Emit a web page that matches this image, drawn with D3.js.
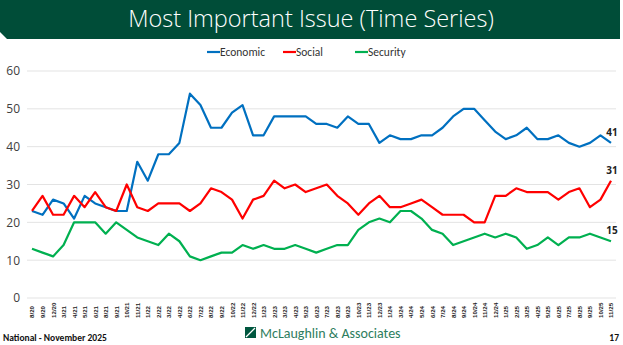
<!DOCTYPE html>
<html><head><meta charset="utf-8">
<script src="https://cdn.jsdelivr.net/npm/d3@7/dist/d3.min.js"></script>
<style>body{margin:0;background:#fff;}svg{display:block;font-family:Calibri,Carlito,"Liberation Sans",Arial,sans-serif;}</style>
</head><body>
<svg id="c" width="623" height="345"></svg>
<script>
const dates = ["8/20","9/20","12/20","3/21","4/21","5/21","6/21","8/21","9/21","10/21","11/21","1/22","2/22","3/22","4/22","6/22","7/22","8/22","9/22","10/22","11/22","12/22","1/23","2/23","3/23","4/23","5/23","6/23","7/23","8/23","9/23","10/23","11/23","12/23","1/24","3/24","4/24","5/24","6/24","7/24","8/24","9/24","10/24","11/24","12/24","1/25","2/25","3/25","4/25","5/25","6/25","7/25","8/25","9/25","10/25","11/25"];
const economic = [23,22,26,25,21,27,25,24,23,23,36,31,38,38,41,54,51,45,45,49,51,43,43,48,48,48,48,46,46,45,48,46,46,41,43,42,42,43,43,45,48,50,50,47,44,42,43,45,42,42,43,41,40,41,43,41];
const social = [23,27,22,22,27,24,28,24,23,30,24,23,25,25,25,23,25,29,28,26,21,26,27,31,29,30,28,29,30,27,25,22,25,27,24,24,25,26,24,22,22,22,20,20,27,27,29,28,28,28,26,28,29,24,26,31];
const security = [13,12,11,14,20,20,20,17,20,18,16,15,14,17,15,11,10,11,12,12,14,13,14,13,13,14,13,12,13,14,14,18,20,21,20,23,23,21,18,17,14,15,16,17,16,17,16,13,14,16,14,16,16,17,16,15];
const yTicks = [0,10,20,30,40,50,60];
const seriesNames = ["Economic","Social","Security"];
const colors = ["#0070C0","#FF0000","#00B050"];

const svg = d3.select("#c");
// title banner
svg.append("path").attr("d","M0,0 H620 V39 H7 L0,32 Z").attr("fill","#004D38");
svg.append("text").attr("x",311).attr("y",27).attr("text-anchor","middle")
  .attr("fill","#fff").attr("font-size",23.5).attr("font-weight",300)
  .attr("font-family","'Open Sans',sans-serif").text("Most Important Issue (Time Series)");

const x = d3.scalePoint().domain(dates).range([32,611]);
const y = d3.scaleLinear().domain([0,60]).range([298,71]);

// gridlines
svg.append("g").selectAll("line").data(yTicks).join("line")
  .attr("x1",27).attr("x2",616).attr("y1",d=>y(d)).attr("y2",d=>y(d))
  .attr("stroke","#e3e3e3").attr("stroke-width",1);

// y axis
const ya = svg.append("g").attr("transform","translate(20,0)")
  .call(d3.axisLeft(y).tickValues(yTicks).tickSize(0).tickPadding(0));
ya.select(".domain").remove();
ya.selectAll("text").attr("font-size",12).attr("fill","#404040").attr("font-family","'Open Sans',sans-serif");

// x axis
const xa = svg.append("g").attr("transform","translate(0,302)")
  .call(d3.axisBottom(x).tickSize(0).tickPadding(0));
xa.select(".domain").remove();
xa.selectAll(".tick text").attr("font-size",6.2).attr("font-weight","bold").attr("fill","#222")
  .attr("dy","0.32em").attr("transform","rotate(-90)").attr("x",-16).attr("y",0).attr("text-anchor","start");

// lines
const data = [economic, social, security];
const line = d3.line().x((d,i)=>x(dates[i])).y(d=>y(d));
data.forEach((s,k)=>{
  svg.append("path").datum(s).attr("d",line).attr("fill","none")
    .attr("stroke",colors[k]).attr("stroke-width",2.2).attr("stroke-linejoin","round");
});
// end labels
data.forEach((s,k)=>{
  const v = s[s.length-1];
  svg.append("text").attr("x",x(dates[dates.length-1])+1).attr("y",y(v)-7)
    .attr("text-anchor","middle").attr("font-size",10).attr("font-weight","bold").attr("fill","#222")
    .attr("font-family","'Open Sans',sans-serif").text(v);
});

// legend
const lx = [207,283,355];
seriesNames.forEach((n,k)=>{
  svg.append("line").attr("x1",lx[k]).attr("x2",lx[k]+13).attr("y1",52).attr("y2",52)
    .attr("stroke",colors[k]).attr("stroke-width",2.2);
  svg.append("text").attr("x",lx[k]+13).attr("y",56).attr("font-size",11.5).attr("fill","#333").text(n);
});

// footer
svg.append("text").attr("x",3).attr("y",341).attr("font-size",9.5).attr("font-weight","bold").attr("fill","#111").text("National - November 2025");
svg.append("rect").attr("x",245).attr("y",327).attr("width",11).attr("height",11).attr("fill","#00573F");
svg.append("line").attr("x1",246).attr("y1",337).attr("x2",255).attr("y2",328).attr("stroke","#fff").attr("stroke-width",1.3);
svg.append("text").attr("x",260).attr("y",338).attr("font-size",14).attr("fill","#2E7D5E").text("McLaughlin & Associates");
svg.append("text").attr("x",619).attr("y",341).attr("text-anchor","end").attr("font-size",9.5).attr("font-weight","bold").attr("fill","#111").text("17");
</script>
</body></html>
